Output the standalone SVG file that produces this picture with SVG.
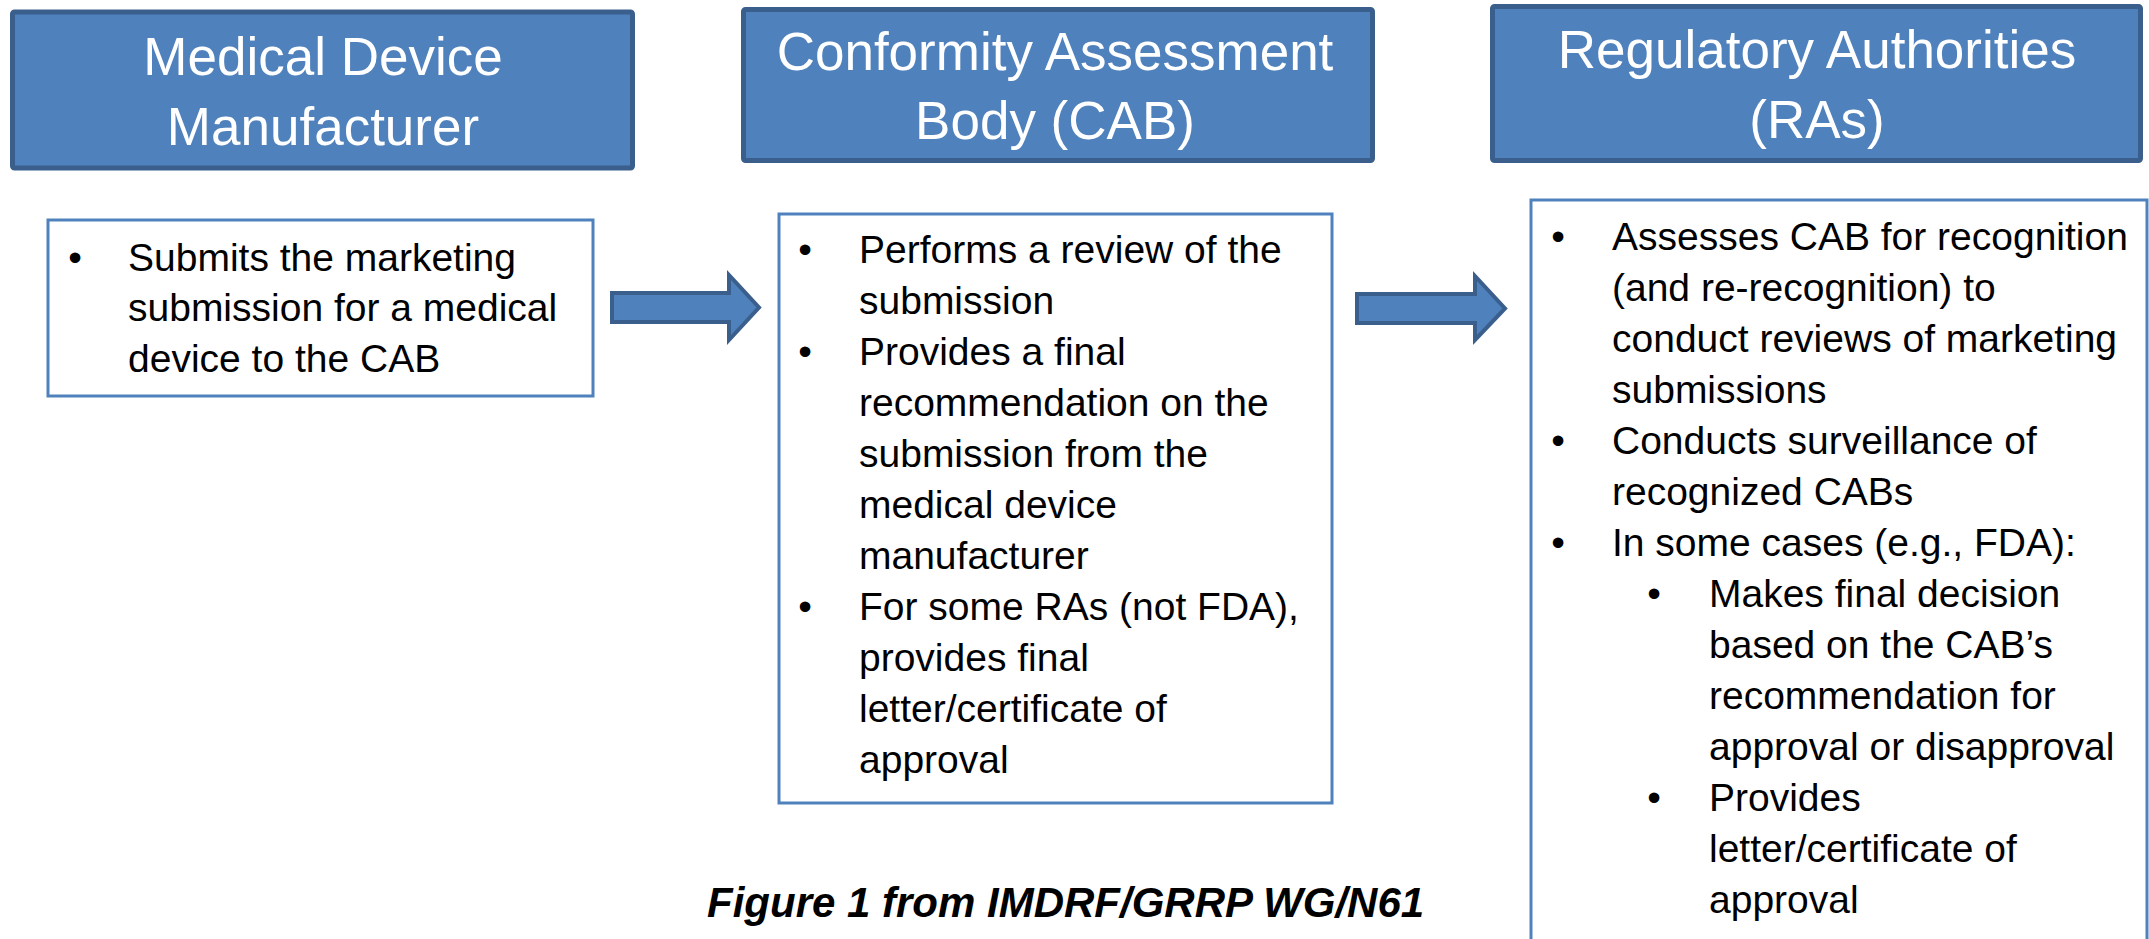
<svg xmlns="http://www.w3.org/2000/svg" width="2149" height="939" viewBox="0 0 2149 939">
  <style>
    .hdr { fill: #4f81bd; stroke: #3a5f8c; stroke-width: 5; }
    .hdr-text { font-family: "Liberation Sans", Arial, sans-serif; font-size: 53px; fill: #ffffff; text-anchor: middle; }
    .box { fill: #ffffff; stroke: #4f81bd; stroke-width: 3; }
    .body { font-family: "Liberation Sans", Arial, sans-serif; font-size: 39px; fill: #000000; }
    .bul { text-anchor: middle; }
    .arrow { fill: #4f81bd; stroke: #3a5f8c; stroke-width: 4; stroke-linejoin: miter; }
    .caption { font-family: "Liberation Sans", Arial, sans-serif; font-size: 42px; font-weight: bold; font-style: italic; fill: #000000; }
  </style>
  <rect width="2149" height="939" fill="#ffffff"/>

  <!-- Column headers -->
  <g id="hdr-manufacturer">
    <rect class="hdr" x="12.5" y="12" width="620" height="156" rx="2"/>
    <text class="hdr-text" x="323" y="75">Medical Device</text>
    <text class="hdr-text" x="323" y="145">Manufacturer</text>
  </g>
  <g id="hdr-cab">
    <rect class="hdr" x="743.5" y="9.5" width="629" height="151" rx="2"/>
    <text class="hdr-text" x="1055" y="70">Conformity Assessment</text>
    <text class="hdr-text" x="1055" y="139">Body (CAB)</text>
  </g>
  <g id="hdr-ras">
    <rect class="hdr" x="1492.5" y="6.5" width="648" height="154" rx="2"/>
    <text class="hdr-text" x="1817" y="68">Regulatory Authorities</text>
    <text class="hdr-text" x="1817" y="138">(RAs)</text>
  </g>

  <!-- Manufacturer duties -->
  <g id="box-manufacturer">
    <rect class="box" x="48" y="220" width="545" height="176"/>
    <text class="body bul" x="75" y="271">•</text>
    <text class="body" x="128" y="271">Submits the marketing</text>
    <text class="body" x="128" y="321">submission for a medical</text>
    <text class="body" x="128" y="372">device to the CAB</text>
  </g>

  <!-- CAB duties -->
  <g id="box-cab">
    <rect class="box" x="779" y="214" width="553" height="589"/>
    <text class="body bul" x="805" y="263">•</text>
    <text class="body" x="859" y="263">Performs a review of the</text>
    <text class="body" x="859" y="314">submission</text>
    <text class="body bul" x="805" y="365">•</text>
    <text class="body" x="859" y="365">Provides a final</text>
    <text class="body" x="859" y="416">recommendation on the</text>
    <text class="body" x="859" y="467">submission from the</text>
    <text class="body" x="859" y="518">medical device</text>
    <text class="body" x="859" y="569">manufacturer</text>
    <text class="body bul" x="805" y="620">•</text>
    <text class="body" x="859" y="620">For some RAs (not FDA),</text>
    <text class="body" x="859" y="671">provides final</text>
    <text class="body" x="859" y="722">letter/certificate of</text>
    <text class="body" x="859" y="773">approval</text>
  </g>

  <!-- RA duties -->
  <g id="box-ras">
    <rect class="box" x="1531" y="200" width="616" height="760"/>
    <text class="body bul" x="1558" y="250">•</text>
    <text class="body" x="1612" y="250">Assesses CAB for recognition</text>
    <text class="body" x="1612" y="301">(and re-recognition) to</text>
    <text class="body" x="1612" y="352">conduct reviews of marketing</text>
    <text class="body" x="1612" y="403">submissions</text>
    <text class="body bul" x="1558" y="454">•</text>
    <text class="body" x="1612" y="454">Conducts surveillance of</text>
    <text class="body" x="1612" y="505">recognized CABs</text>
    <text class="body bul" x="1558" y="556">•</text>
    <text class="body" x="1612" y="556">In some cases (e.g., FDA):</text>
    <text class="body bul" x="1654" y="607">•</text>
    <text class="body" x="1709" y="607">Makes final decision</text>
    <text class="body" x="1709" y="658">based on the CAB’s</text>
    <text class="body" x="1709" y="709">recommendation for</text>
    <text class="body" x="1709" y="760">approval or disapproval</text>
    <text class="body bul" x="1654" y="811">•</text>
    <text class="body" x="1709" y="811">Provides</text>
    <text class="body" x="1709" y="862">letter/certificate of</text>
    <text class="body" x="1709" y="913">approval</text>
  </g>

  <!-- Block arrows between columns -->
  <g id="connectors">
    <path class="arrow" d="M612,293 L729,293 L729,275 L759,307.5 L729,340 L729,322 L612,322 Z"/>
    <path class="arrow" d="M1357,294 L1475,294 L1475,276 L1505,308.5 L1475,340 L1475,323 L1357,323 Z"/>
  </g>

  <text class="caption" x="707" y="917">Figure 1 from IMDRF/GRRP WG/N61</text>
</svg>
